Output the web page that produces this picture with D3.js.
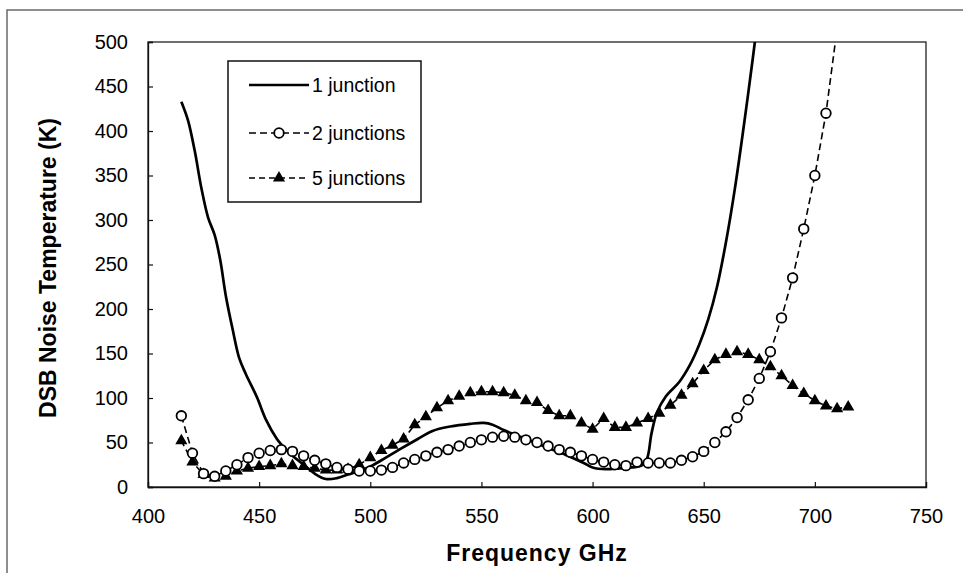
<!DOCTYPE html>
<html><head><meta charset="utf-8">
<script src="https://cdn.jsdelivr.net/npm/d3@7"></script>
<style>
body{margin:0;background:#fff;}
text{font-family:"Liberation Sans",Arial,Helvetica,sans-serif;fill:#000;}
</style>
</head><body>
<svg id="chart" width="963" height="573"></svg>
<script>
// ---------- data ----------
const xTicks = [400, 450, 500, 550, 600, 650, 700, 750];
const yTicks = [0, 50, 100, 150, 200, 250, 300, 350, 400, 450, 500];
const seriesNames = ["1 junction", "2 junctions", "5 junctions"];
const xTitle = "Frequency GHz";
const yTitle = "DSB Noise Temperature (K)";

// 1 junction (solid line)
const freq1 = [415, 418, 421, 424, 427, 430, 432.5, 435, 438, 441, 444, 449, 453, 458, 461, 465, 470, 475, 480, 485, 490, 495, 500, 507, 513, 520, 528, 536, 545, 551, 555, 560, 566, 573, 581, 588, 596, 600, 606, 612, 618, 622, 624.5, 626.5, 629, 633, 639, 644, 648, 652, 656, 660, 664, 668, 672, 675];
const temp1 = [433, 412, 378, 336, 303, 283, 255, 215, 178, 145, 127, 101, 76, 54, 45, 35, 25, 15, 9, 10, 14, 18, 23, 33, 42, 52, 63, 68, 71, 72, 70, 64, 58, 51, 43, 36, 27, 22, 20, 21, 22, 24, 32, 60, 84, 102, 118, 138, 160, 188, 225, 275, 335, 405, 480, 540];

// 2 junctions (open circles, dashed)
const freq2 = [415, 420, 425, 430, 435, 440, 445, 450, 455, 460, 465, 470, 475, 480, 485, 490, 495, 500, 505, 510, 515, 520, 525, 530, 535, 540, 545, 550, 555, 560, 565, 570, 575, 580, 585, 590, 595, 600, 605, 610, 615, 620, 625, 630, 635, 640, 645, 650, 655, 660, 665, 670, 675, 680, 685, 690, 695, 700, 705, 710];
const temp2 = [80, 38, 15, 12, 18, 25, 33, 38, 41, 42, 40, 35, 30, 26, 22, 20, 18, 18, 19, 22, 27, 31, 35, 39, 42, 46, 50, 53, 56, 57, 56, 53, 50, 46, 42, 39, 35, 31, 28, 25, 24, 28, 27, 27, 27, 30, 34, 40, 50, 62, 78, 98, 122, 152, 190, 235, 290, 350, 420, 515];

// 5 junctions (filled triangles, dashed)
const freq5 = [415, 420, 425, 430, 435, 440, 445, 450, 455, 460, 465, 470, 475, 480, 485, 490, 495, 500, 505, 510, 515, 520, 525, 530, 535, 540, 545, 550, 555, 560, 565, 570, 575, 580, 585, 590, 595, 600, 605, 610, 615, 620, 625, 630, 635, 640, 645, 650, 655, 660, 665, 670, 675, 680, 685, 690, 695, 700, 705, 710, 715];
const temp5 = [52, 28, 14, 10, 12, 18, 21, 23, 24, 26, 24, 23, 21, 19, 19, 20, 25, 33, 41, 47, 54, 70, 79, 89, 97, 102, 106, 107, 107, 106, 103, 97, 95, 86, 80, 80, 72, 65, 77, 67, 67, 72, 77, 83, 92, 103, 116, 131, 143, 149, 152, 149, 143, 135, 125, 114, 105, 97, 91, 88, 90];

// ---------- layout ----------
const svg = d3.select("#chart");
const W = 963, H = 573;
const L = 148, R = 926, T = 42, B = 487;

const x = d3.scaleLinear().domain([400, 750]).range([L, R]);
const y = d3.scaleLinear().domain([0, 500]).range([B, T]);

// outer chart frame (only top/left visible in the scan)
svg.append("path")
  .attr("d", `M7,${H+5} L7,10 L${W+5},10`)
  .attr("fill", "none").attr("stroke", "#6a6a6a").attr("stroke-width", 1.5);

// plot frame
svg.append("rect").attr("x", L).attr("y", T).attr("width", R - L).attr("height", B - T)
  .attr("fill", "none").attr("stroke", "#222").attr("stroke-width", 1.3);

// axes
const yAxis = d3.axisLeft(y).tickValues(yTicks).tickSize(-5).tickPadding(20).tickFormat(d3.format("d"));
const gy = svg.append("g").attr("transform", `translate(${L},0)`).call(yAxis);
const xAxis = d3.axisBottom(x).tickValues(xTicks).tickSize(-5).tickPadding(22).tickFormat(d3.format("d"));
const gx = svg.append("g").attr("transform", `translate(0,${B})`).call(xAxis);
[gx, gy].forEach(g => {
  g.select(".domain").attr("stroke", "#111").attr("stroke-width", 1.3);
  g.selectAll(".tick line").attr("stroke", "#111").attr("stroke-width", 1.2);
  g.selectAll(".tick text").style("font-size", "20px").style("font-family", "'Liberation Sans',Arial,sans-serif").attr("fill", "#000");
});

// axis titles
svg.append("text").attr("x", (L + R) / 2).attr("y", 561).attr("text-anchor", "middle")
  .style("font-size", "23px").style("font-weight", "bold").style("letter-spacing", "1px").text(xTitle);
svg.append("text").attr("transform", "translate(56,268) rotate(-90)").attr("text-anchor", "middle")
  .style("font-size", "23px").style("font-weight", "bold").text(yTitle);

// clip
svg.append("clipPath").attr("id", "clip").append("rect")
  .attr("x", L).attr("y", T).attr("width", R - L).attr("height", B - T);
const plot = svg.append("g").attr("clip-path", "url(#clip)");

const d1 = freq1.map((f, i) => [f, temp1[i]]);
const d2 = freq2.map((f, i) => [f, temp2[i]]);
const d5 = freq5.map((f, i) => [f, temp5[i]]);

const lineSmooth = d3.line().x(d => x(d[0])).y(d => y(d[1])).curve(d3.curveCatmullRom.alpha(0.5));
const lineStraight = d3.line().x(d => x(d[0])).y(d => y(d[1]));

plot.append("path").datum(d5).attr("d", lineStraight)
  .attr("fill", "none").attr("stroke", "#000").attr("stroke-width", 1.6).attr("stroke-dasharray", "6,4");
plot.append("path").datum(d2).attr("d", lineStraight)
  .attr("fill", "none").attr("stroke", "#000").attr("stroke-width", 1.6).attr("stroke-dasharray", "7,4");
plot.append("path").datum(d1).attr("d", lineSmooth)
  .attr("fill", "none").attr("stroke", "#000").attr("stroke-width", 2.7);

const tri = d3.symbol().type(d3.symbolTriangle).size(64);
plot.selectAll(".tri").data(d5).join("path").attr("class", "tri")
  .attr("transform", d => `translate(${x(d[0])},${y(d[1])})`)
  .attr("d", tri).attr("fill", "#000");
plot.selectAll(".circ").data(d2).join("circle").attr("class", "circ")
  .attr("cx", d => x(d[0])).attr("cy", d => y(d[1])).attr("r", 4.8)
  .attr("fill", "#fff").attr("stroke", "#000").attr("stroke-width", 1.8);

// legend
const lg = svg.append("g");
lg.append("rect").attr("x", 228).attr("y", 61).attr("width", 193).attr("height", 141)
  .attr("fill", "#fff").attr("stroke", "#111").attr("stroke-width", 1.5);
const ly = [85, 133, 178];
const lx0 = 249, lx1 = 309;
lg.append("line").attr("x1", lx0).attr("x2", lx1).attr("y1", ly[0]).attr("y2", ly[0])
  .attr("stroke", "#000").attr("stroke-width", 2.7);
lg.append("line").attr("x1", lx0).attr("x2", lx1).attr("y1", ly[1]).attr("y2", ly[1])
  .attr("stroke", "#000").attr("stroke-width", 1.6).attr("stroke-dasharray", "7,4");
lg.append("circle").attr("cx", (lx0 + lx1) / 2).attr("cy", ly[1]).attr("r", 4.8)
  .attr("fill", "#fff").attr("stroke", "#000").attr("stroke-width", 1.8);
lg.append("line").attr("x1", lx0).attr("x2", lx1).attr("y1", ly[2]).attr("y2", ly[2])
  .attr("stroke", "#000").attr("stroke-width", 1.6).attr("stroke-dasharray", "6,4");
lg.append("path").attr("transform", `translate(${(lx0 + lx1) / 2},${ly[2]})`).attr("d", tri).attr("fill", "#000");
seriesNames.forEach((s, i) => {
  lg.append("text").attr("x", lx1 + 3).attr("y", ly[i]).attr("dy", "0.35em")
    .style("font-size", "19.5px").text(s);
});
</script>
</body></html>
